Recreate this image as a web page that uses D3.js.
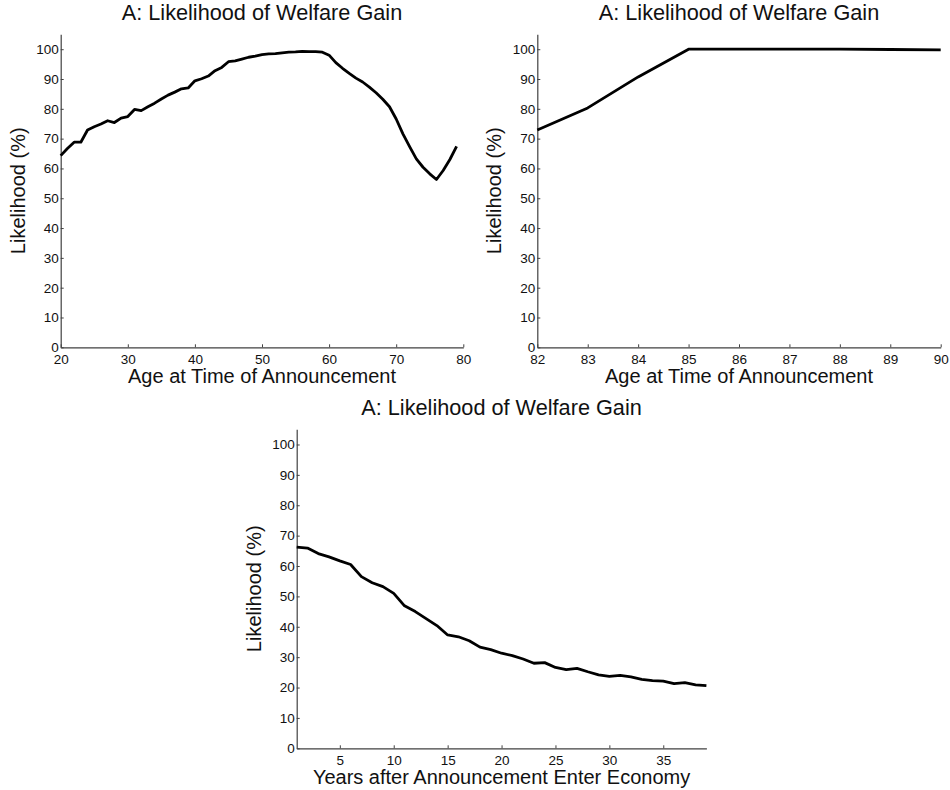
<!DOCTYPE html>
<html>
<head>
<meta charset="utf-8">
<script src="https://cdn.jsdelivr.net/npm/d3@7"></script>
<style>
  body { margin: 0; background: #fff; }
  text { font-family: "Liberation Sans", Arial, sans-serif; fill: #111; }
</style>
</head>
<body>
<div id="chart"></div>
<script>
// data
var agesA = d3.range(20, 80); // 20..79
var likelihoodA = [64.3, 66.7, 68.8, 68.8, 72.9, 74.0, 74.9, 76.0, 75.4, 76.9,
                   77.4, 79.8, 79.4, 80.7, 81.9, 83.3, 84.6, 85.6, 86.7, 87.0,
                   89.4, 90.1, 91.0, 92.8, 93.9, 95.8, 96.1, 96.7, 97.3, 97.7,
                   98.2, 98.4, 98.5, 98.8, 99.0, 99.1, 99.3, 99.2, 99.2, 99.0,
                   98.0, 95.5, 93.6, 91.9, 90.3, 89.0, 87.3, 85.4, 83.2, 80.7,
                   76.6, 71.6, 67.3, 63.2, 60.4, 58.2, 56.3, 59.3, 63.0, 67.4];

var agesB = [82, 83, 84, 85, 86, 87, 88, 89, 90];
var likelihoodB = [72.9, 80.3, 90.7, 100, 100, 100, 100, 99.9, 99.8];

var yearsC = d3.range(1, 40); // 1..39
var likelihoodC = [66.2, 65.9, 64.1, 63.0, 61.7, 60.5, 56.5, 54.5, 53.2, 51.0,
                   46.9, 45.0, 42.7, 40.4, 37.3, 36.7, 35.4, 33.3, 32.5, 31.3,
                   30.5, 29.4, 28.0, 28.2, 26.6, 25.9, 26.3, 25.2, 24.2, 23.7,
                   24.0, 23.5, 22.7, 22.3, 22.1, 21.3, 21.6, 20.9, 20.6];

var yTicks = d3.range(0, 101, 10);
var xTicksA = [20, 30, 40, 50, 60, 70, 80];
var xTicksB = [82, 83, 84, 85, 86, 87, 88, 89, 90];
var xTicksC = [5, 10, 15, 20, 25, 30, 35];

var title = "A: Likelihood of Welfare Gain";
var yLabel = "Likelihood (%)";

var svg = d3.select("#chart")
    .append("svg")
    .attr("width", 950)
    .attr("height", 790);

// one panel = one set of axes
function panel(box, xs, ys, xDomain, xTicks, xLabel) {
    var w = box.right - box.left,
        h = box.bottom - box.top;

    var g = svg.append("g")
        .attr("transform", "translate(" + box.left + "," + box.top + ")");

    var x = d3.scaleLinear().domain(xDomain).range([0, w]);
    var y = d3.scaleLinear().domain([0, 105]).range([h, 0]);

    // axes, ticks pointing inward like matlab
    var xAxis = g.append("g")
        .attr("transform", "translate(0," + h + ")")
        .call(d3.axisBottom(x).tickValues(xTicks).tickSizeInner(-3).tickSizeOuter(0).tickPadding(7).tickFormat(d3.format("d")));
    var yAxis = g.append("g")
        .call(d3.axisLeft(y).tickValues(yTicks).tickSizeInner(-3).tickSizeOuter(0).tickPadding(2));

    [xAxis, yAxis].forEach(function (a) {
        a.select(".domain").attr("stroke", "#404040").attr("stroke-width", 1.2);
        a.selectAll(".tick line").attr("stroke", "#404040");
        a.selectAll(".tick text")
            .attr("fill", "#111")
            .style("font-size", "13.5px")
            .style("font-family", "Liberation Sans, Arial, sans-serif");
    });

    // the line
    var line = d3.line()
        .x(function (d, i) { return x(xs[i]); })
        .y(function (d) { return y(d); });

    g.append("path")
        .datum(ys)
        .attr("d", line)
        .attr("fill", "none")
        .attr("stroke", "#000")
        .attr("stroke-width", 2.8)
        .attr("stroke-linejoin", "round");

    // title + labels
    g.append("text")
        .attr("x", w / 2)
        .attr("y", -14)
        .attr("text-anchor", "middle")
        .style("font-size", "21.7px")
        .text(title);

    g.append("text")
        .attr("x", w / 2)
        .attr("y", h + 36)
        .attr("text-anchor", "middle")
        .style("font-size", "20px")
        .text(xLabel);

    g.append("text")
        .attr("transform", "translate(-36," + (h / 2) + ") rotate(-90)")
        .attr("text-anchor", "middle")
        .style("font-size", "20px")
        .text(yLabel);
}

panel({ left: 60.7, right: 463.3, top: 34.3, bottom: 347.3 }, agesA, likelihoodA, [20, 80], xTicksA, "Age at Time of Announcement");
panel({ left: 537.3, right: 940.7, top: 34.3, bottom: 347.3 }, agesB, likelihoodB, [82, 90], xTicksB, "Age at Time of Announcement");
panel({ left: 296.7, right: 706.4, top: 429.3, bottom: 748.3 }, yearsC, likelihoodC, [1, 39], xTicksC, "Years after Announcement Enter Economy");
</script>
</body>
</html>
